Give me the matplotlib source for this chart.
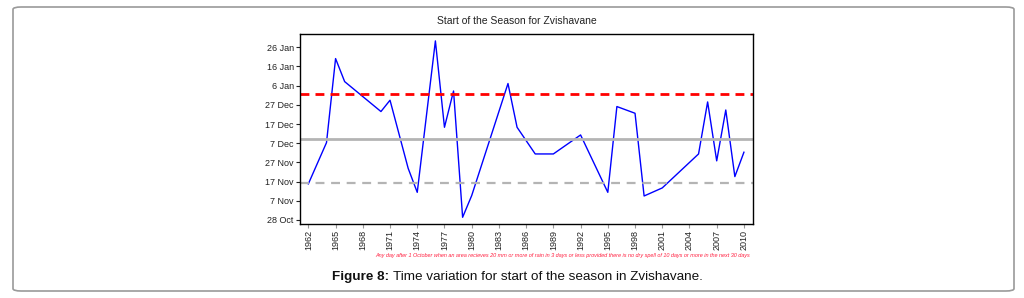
import matplotlib
matplotlib.use("Agg")
import matplotlib.pyplot as plt
from matplotlib.patches import FancyBboxPatch

plt.rcParams['font.family'] = ['Liberation Sans', 'DejaVu Sans']

# Data: onset day counted from 1 October (day 27 = 28 Oct)
years = [1962, 1964, 1965, 1966, 1970, 1971, 1973, 1974, 1976, 1977, 1978, 1979,
         1980, 1984, 1985, 1987, 1989, 1992, 1995, 1996, 1998, 1999, 2001, 2005,
         2006, 2007, 2008, 2009, 2010]
onset_day = [45.8, 67.3, 111.1, 99.1, 83.5, 89.4, 53.9, 41.4, 120.3, 75.3, 94.2, 28.4,
             39.7, 98.1, 75.3, 61.4, 61.4, 71.3, 41.4, 86.1, 82.6, 39.5, 43.7, 61.4,
             88.5, 57.8, 84.3, 49.6, 62.3]

upper_ref = 92.5   # red dashed
mean_ref = 69.4    # grey solid
lower_ref = 46.5   # grey dashed

ytick_days = [27, 37, 47, 57, 67, 77, 87, 97, 107, 117]
ytick_labels = ['28 Oct', '7 Nov', '17 Nov', '27 Nov', '7 Dec', '17 Dec',
                '27 Dec', '6 Jan', '16 Jan', '26 Jan']
xtick_years = list(range(1962, 2011, 3))

W, H = 1024, 298
fig = plt.figure(figsize=(W / 100, H / 100), dpi=100)

# outer rounded frame
frame = FancyBboxPatch((13 / W, 7 / H), (1014 - 13) / W, (291 - 7) / H,
                       boxstyle="round,pad=0,rounding_size=0.008",
                       transform=fig.transFigure, fill=False,
                       edgecolor='#9a9a9a', linewidth=1.2)
fig.patches.append(frame)

ax = fig.add_axes([300 / W, 1 - 224 / H, (753 - 300) / W, (224 - 34) / H])
ax.plot(years, onset_day, color='#0000ff', linewidth=1.0)
ax.axhline(upper_ref, color='#ff0000', linewidth=2.0, linestyle=(0, (3.2, 2.2)))
ax.axhline(mean_ref, color='#b4b4b4', linewidth=2.0)
ax.axhline(lower_ref, color='#b4b4b4', linewidth=1.6, linestyle=(0, (4, 3)))

ax.set_xlim(1961.08, 2011.0)
ax.set_ylim(24.9, 123.9)
ax.set_yticks(ytick_days)
ax.set_yticklabels(ytick_labels)
ax.set_xticks(xtick_years)
ax.set_xticklabels([str(y) for y in xtick_years], rotation=90)
ax.tick_params(axis='both', labelsize=6.5, length=3, width=0.8, pad=1.5,
               colors='#222222')
ax.tick_params(axis='x', color='#999999', labelcolor='#222222')
for s in ax.spines.values():
    s.set_linewidth(1.0)
    s.set_color('black')

fig.text(517 / W, 1 - 21 / H, 'Start of the Season for Zvishavane',
         ha='center', va='center', fontsize=7.5, color='#222222')

fig.text(750 / W, 1 - 256 / H,
         'Any day after 1 October when an area recieves 20 mm or more of rain in 3 days '
         'or less provided there is no dry spell of 10 days or more in the next 30 days',
         ha='right', va='center', fontsize=4.0, style='italic', color='#ff2040')

cap_size = 9.7
t1 = fig.text(332 / W, 1 - 277 / H, 'Figure 8:', ha='left', va='center',
              fontsize=cap_size, fontweight='bold', color='#111111')
fig.canvas.draw()
bb = t1.get_window_extent(fig.canvas.get_renderer())
fig.text((bb.x1 + 4) / W, 1 - 277 / H,
         'Time variation for start of the season in Zvishavane.',
         ha='left', va='center', fontsize=cap_size, color='#111111')

fig.savefig('out.png', dpi=100)
